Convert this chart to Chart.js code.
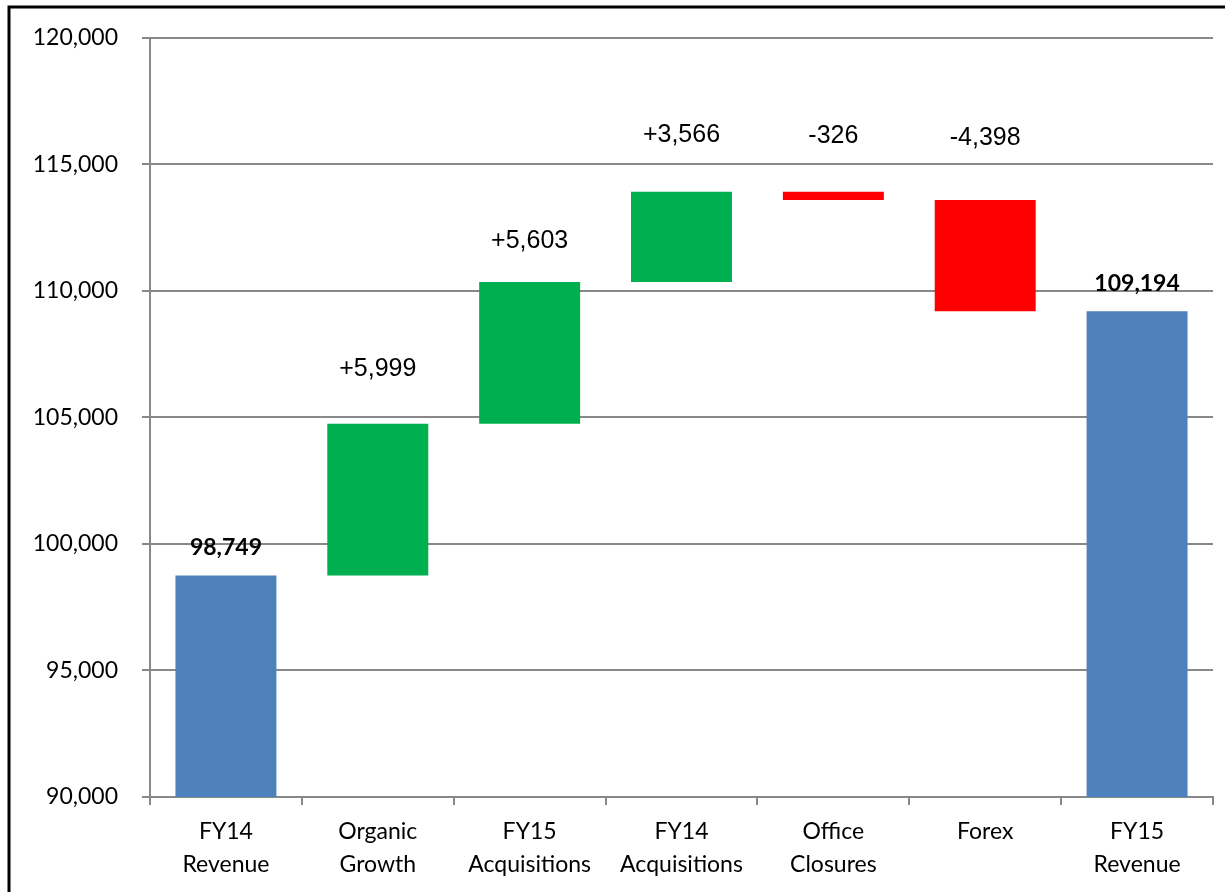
<!DOCTYPE html>
<html><head><meta charset="utf-8">
<script src="https://cdn.jsdelivr.net/npm/chart.js@4/dist/chart.umd.min.js"></script>
<style>html,body{margin:0;padding:0;background:#fff}#wrap{position:relative;width:1225px;height:892px}canvas{display:block}</style>
</head><body><div id="wrap"><canvas id="c" width="1225" height="892"></canvas></div>
<script>
const categories = [["FY14","Revenue"],["Organic","Growth"],["FY15","Acquisitions"],["FY14","Acquisitions"],["Office","Closures"],["Forex"],["FY15","Revenue"]];
const startValue = 98749;
const changes = [5999, 5603, 3566, -326, -4398];
const endValue = 109194;
const labelTexts = ["98,749","+5,999","+5,603","+3,566","-326","-4,398","109,194"];
const labelAt = [99850, 106900, 111950, 116150, 116100, 116020, 110280];
const yTicks = [90000, 95000, 100000, 105000, 110000, 115000, 120000];

const floating = [];
const colors = [];
floating.push([90000, startValue]); colors.push('#4F81BD');
let run = startValue;
changes.forEach(c => { floating.push([run, run + c]); colors.push(c >= 0 ? '#00B050' : '#FF0000'); run += c; });
floating.push([90000, endValue]); colors.push('#4F81BD');

const labelPlugin = {
  id: 'lbl',
  afterDatasetsDraw(chart) {
    const ctx = chart.ctx, meta = chart.getDatasetMeta(0), y = chart.scales.y;
    ctx.save();
    ctx.textAlign = 'center'; ctx.textBaseline = 'middle'; ctx.fillStyle = '#000';
    meta.data.forEach((bar, i) => {
      const total = (i === 0 || i === meta.data.length - 1);
      ctx.font = total ? 'bold 23px Lato, "Open Sans", sans-serif' : '25px "Liberation Sans", Arial, sans-serif';
      ctx.fillText(labelTexts[i], bar.x, y.getPixelForValue(labelAt[i]));
    });
    ctx.restore();
  }
};
const borderPlugin = {
  id: 'border',
  afterDraw(chart) {
    const ctx = chart.ctx;
    ctx.save(); ctx.strokeStyle = '#000'; ctx.lineWidth = 3;
    ctx.beginPath(); ctx.moveTo(9, 892); ctx.lineTo(9, 7); ctx.lineTo(1225, 7); ctx.stroke();
    ctx.restore();
  }
};

new Chart(document.getElementById('c'), {
  type: 'bar',
  data: { labels: categories, datasets: [{ data: floating, backgroundColor: colors, borderWidth: 0, barPercentage: 0.665, categoryPercentage: 1 }] },
  options: {
    responsive: false, animation: false,
    layout: { padding: { left: 0, top: 37, right: 12, bottom: 0 } },
    plugins: { legend: { display: false }, tooltip: { enabled: false } },
    scales: {
      x: {
        grid: { display: true, drawOnChartArea: false, drawTicks: true, tickLength: 8, color: '#888', lineWidth: 2, offset: true },
        border: { display: true, color: '#888', width: 2 },
        ticks: { color: '#000', font: { family: 'Lato, "Open Sans", sans-serif', size: 23, lineHeight: 1.43 }, padding: 10, maxRotation: 0 },
        afterFit(s) { s.height = 95; }
      },
      y: {
        min: 90000, max: 120000,
        afterBuildTicks(s) { s.ticks = yTicks.map(v => ({ value: v })); },
        grid: { color: '#888', lineWidth: 2, tickLength: 8 },
        border: { display: true, color: '#888', width: 2 },
        ticks: { color: '#000', font: { family: 'Lato, "Open Sans", sans-serif', size: 23 }, padding: 24,
          callback: v => v.toLocaleString('en-US') },
        afterFit(s) { s.width = 150; }
      }
    }
  },
  plugins: [labelPlugin, borderPlugin]
});
</script></body></html>
